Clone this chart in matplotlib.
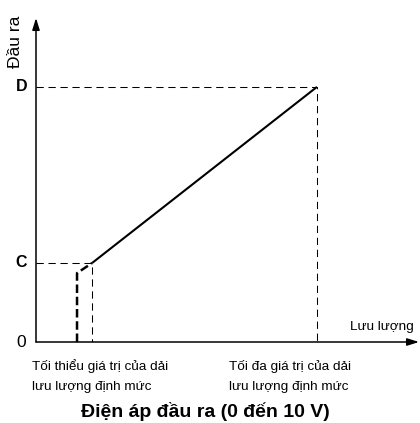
import matplotlib

matplotlib.use("Agg")
import matplotlib.pyplot as plt
from matplotlib import font_manager

# Output signal vs. flow, arbitrary units (rated maximum flow gives D)
flow_cutoff = 1.46      # output drops out below the rated minimum
flow_min = 2.0          # rated range minimum
flow_max = 10.0         # rated range maximum
out_cutoff = 2.7
out_c = 3.1
out_d = 10.0
x_end = 13.63
y_end = 12.7

tick_values = [0, out_c, out_d]
tick_labels = ["0", "C", "D"]
min_label = ["Tối thiểu giá trị của dải", "lưu lượng định mức"]
max_label = ["Tối đa giá trị của dải", "lưu lượng định mức"]


def first_font(names):
    for name in names:
        try:
            font_manager.findfont(font_manager.FontProperties(family=name),
                                  fallback_to_default=False)
            return name
        except ValueError:
            continue
    return "DejaVu Sans"


sans = first_font(["Liberation Sans", "Arial"])
narrow = first_font(["Liberation Sans Narrow", "Arial Narrow", "Liberation Sans"])
small_size = 12 if "Narrow" in narrow else 9.7

plt.rcParams["font.family"] = [sans, "DejaVu Sans"]

W, H = 420, 423
fig = plt.figure(figsize=(W / 100, H / 100), dpi=100)
ax = fig.add_axes([36 / W, 81 / H, 383 / W, 324 / H])
ax.set_xlim(0, x_end)
ax.set_ylim(0, y_end)
ax.axis("off")


def px(x, y):
    return x / W, 1 - y / H


# axes with arrow heads
arrow = dict(arrowstyle="-|>,head_width=0.22,head_length=0.7", color="black", lw=1.1,
             shrinkA=0, shrinkB=0)
ax.annotate("", xy=(x_end, 0), xytext=(0, 0), arrowprops=arrow, annotation_clip=False)
ax.annotate("", xy=(0, y_end), xytext=(0, 0), arrowprops=arrow, annotation_clip=False)

thin = dict(color="black", lw=0.75, ls=(0, (7, 4.5)))
ax.plot([0, flow_max, flow_max], [out_d, out_d, 0], **thin)
ax.plot([0, flow_min, flow_min], [out_c, out_c, 0], **thin)

# rated range response
ax.plot([flow_min, flow_max], [out_c, out_d], color="black", lw=1.5, solid_capstyle="butt")
# drop-out below the rated minimum
ax.plot([flow_cutoff, flow_cutoff, flow_min], [0, out_cutoff, out_c], color="black",
        lw=1.8, ls=(0, (3.4, 1.5)))

for val, lab in zip(tick_values, tick_labels):
    if lab == "0":
        ax.text(-0.52, val, lab, ha="center", va="center", fontsize=12.5, clip_on=False)
    else:
        ax.text(-0.52, val, lab, ha="center", va="center", fontsize=11.5, fontweight="bold")

fig.text(*px(16, 42), "Đầu ra", rotation=90, ha="center", va="center", fontsize=12.5)
fig.text(*px(350, 330), "Lưu lượng", ha="left", va="baseline", fontsize=small_size,
         family=[narrow, "DejaVu Sans"])

for i, line in enumerate(min_label):
    fig.text(*px(32, 370 + 20 * i), line, ha="left", va="baseline", fontsize=small_size,
             family=[narrow, "DejaVu Sans"])
for i, line in enumerate(max_label):
    fig.text(*px(229, 370 + 20 * i), line, ha="left", va="baseline", fontsize=small_size,
             family=[narrow, "DejaVu Sans"])

fig.text(*px(205, 417), "Điện áp đầu ra (0 đến 10 V)", ha="center", va="baseline",
         fontsize=14, fontweight="bold")

fig.savefig("out.png", dpi=100, facecolor="white")
